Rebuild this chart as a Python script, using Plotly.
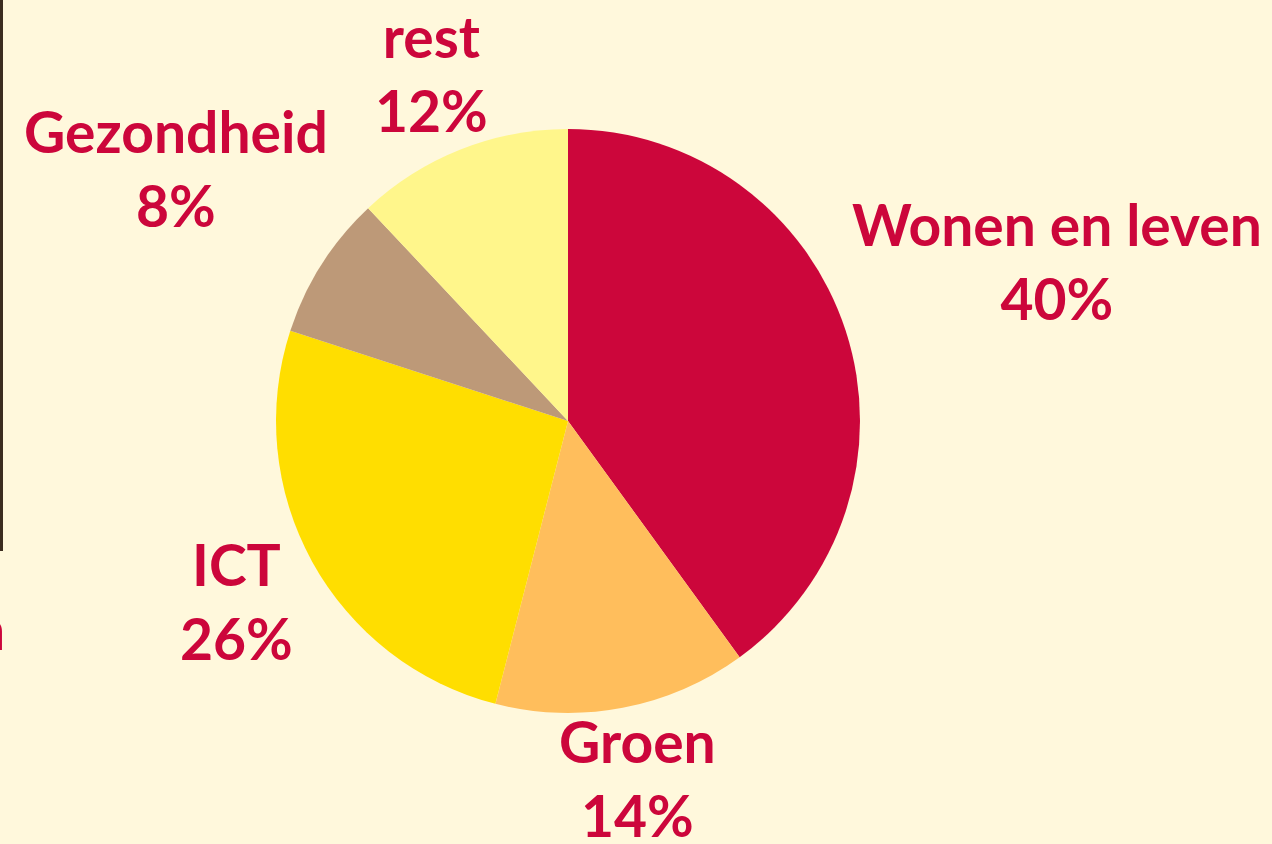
import plotly.graph_objects as go

labels = ["Wonen en leven", "Groen", "ICT", "Gezondheid", "rest"]
values = [40, 14, 26, 8, 12]
colors = ["#CC063B", "#FFBE5C", "#FFDE00", "#BD9978", "#FFF68B"]

# label anchor positions in pixels (x from left, y from top)
label_px = {
    "Wonen en leven": (1057, 261),
    "Groen": (637, 778),
    "ICT": (237, 601),
    "Gezondheid": (176, 168),
    "rest": (431, 73),
}

W, H = 1272, 844
BG = "#FFF8DC"
RED = "#CC063B"
FONT = "Lato"

fig = go.Figure(go.Pie(
    labels=labels,
    values=values,
    marker=dict(colors=colors, line=dict(width=0)),
    sort=False,
    direction="clockwise",
    rotation=0,
    textinfo="none",
    hoverinfo="label+percent",
    showlegend=False,
    domain=dict(x=[0.2170, 0.6761], y=[0.1552, 0.8472]),
))

annotations = []
for lab, val in zip(labels, values):
    px, py = label_px[lab]
    annotations.append(dict(
        text=f"<b>{lab}<br>{val}%</b>",
        x=px / W, y=(H - py) / H, xref="paper", yref="paper",
        xanchor="center", yanchor="middle", showarrow=False,
        font=dict(family=FONT, size=57, color=RED),
    ))

# partial label cut off at the left edge
annotations.append(dict(
    text="<b>n</b>", x=0, y=(H - 628) / H, xref="paper", yref="paper",
    xanchor="right", yanchor="middle", xshift=7, showarrow=False,
    font=dict(family=FONT, size=57, color=RED),
))

fig.update_layout(
    width=W, height=H,
    margin=dict(l=0, r=0, t=0, b=0),
    paper_bgcolor=BG, plot_bgcolor=BG,
    annotations=annotations,
    shapes=[dict(type="rect", xref="paper", yref="paper",
                 x0=0, x1=3 / W, y0=(H - 551) / H, y1=1,
                 fillcolor="#3B2C20", line=dict(width=0), layer="above")],
)

fig.write_html(
    "out.html",
    config={"displayModeBar": False},
    post_script="document.body.style.margin='0';document.body.style.padding='0';"
                "document.body.style.overflow='hidden';",
)
